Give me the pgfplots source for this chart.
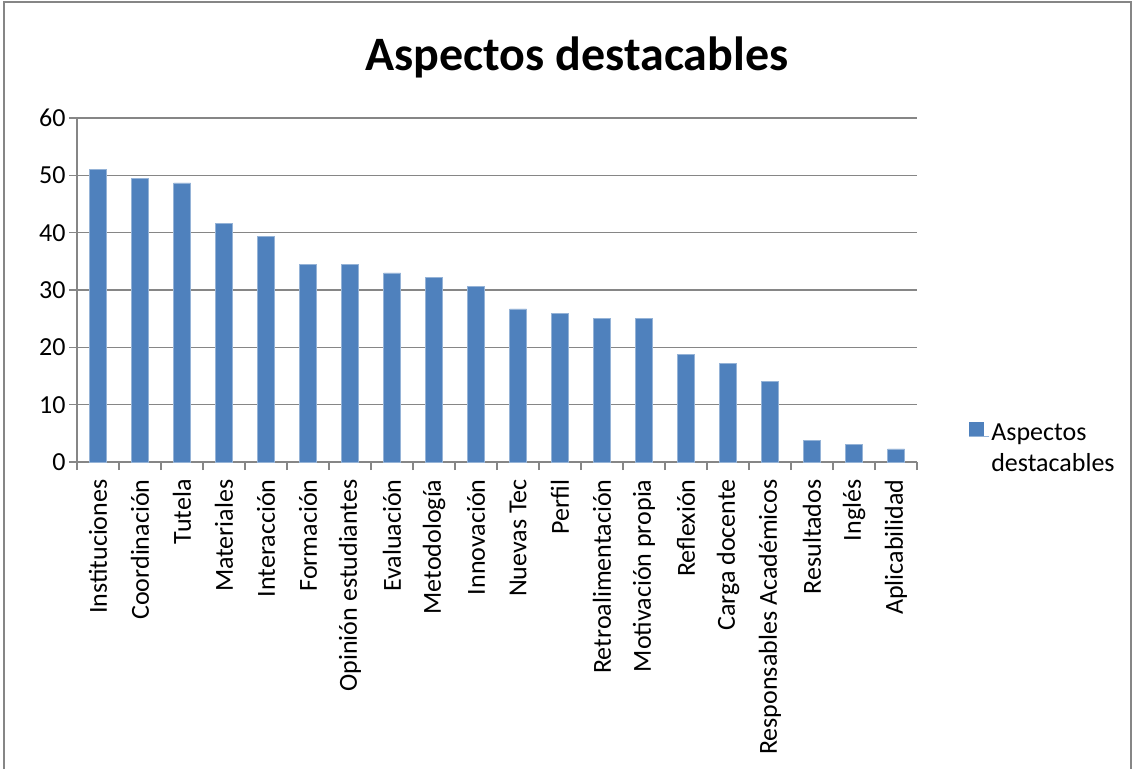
\documentclass[border=0pt]{standalone}
\usepackage{pgfplots}
\pgfplotsset{compat=1.18}
\usepackage{fontspec}
\setmainfont{Carlito}
\definecolor{barblue}{HTML}{4F81BD}
\definecolor{gridgray}{HTML}{868686}
\begin{document}
\begin{tikzpicture}[x=1pt,y=1pt]
\path[use as bounding box] (0pt,0pt) rectangle (1133pt,769pt);
\draw[gridgray,line width=1.2pt] (4pt,0pt) -- (4pt,767pt) -- (1131pt,767pt) -- (1131pt,0pt);
\node[font=\fontsize{48}{52}\selectfont\bfseries] at (577pt,712pt) {Aspectos destacables};
\begin{axis}[
  at={(77pt,307pt)}, anchor=south west,
  width=840pt, height=344pt, scale only axis,
  xmin=-0.5, xmax=19.5, ymin=0, ymax=60,
  ytick={0,10,...,60},
  xtick={-0.5,0.5,...,19.5},
  x tick label as interval,
  xticklabels={Instituciones,Coordinación,Tutela,Materiales,Interacción,Formación,Opinión estudiantes,Evaluación,Metodología,Innovación,Nuevas Tec,Perfil,Retroalimentación,Motivación propia,Reflexión,Carga docente,Responsables Académicos,Resultados,Inglés,Aplicabilidad},
  x tick label style={rotate=90, anchor=east, font=\fontsize{26}{30}\selectfont},
  xticklabel shift=6pt,
  y tick label style={font=\fontsize{26}{30}\selectfont},
  /pgf/number format/assume math mode=true,
  axis x line*=bottom, axis y line*=left,
  axis line style={gridgray, line width=1.2pt},
  ymajorgrids, grid style={gridgray, line width=1.2pt},
  major tick length=8pt, tick align=outside,
  tick style={gridgray, line width=1.2pt},
  legend style={draw=none, fill=none, at={(1.058,0.039)}, anchor=west, font=\fontsize{26}{31}\selectfont, cells={align=left}},
  legend image code/.code={\fill[barblue] (0pt,12pt) rectangle (14pt,26pt); \path (0pt,12pt) -- (20pt,12pt);},
]
\addplot[ybar, bar width=17pt, fill=barblue, draw=barblue!60!white] coordinates {
(0,51.1) (1,49.5) (2,48.7) (3,41.6) (4,39.3) (5,34.5) (6,34.5) (7,33.0) (8,32.2) (9,30.6)
(10,26.7) (11,25.9) (12,25.0) (13,25.0) (14,18.8) (15,17.2) (16,14.1) (17,3.8) (18,3.1) (19,2.3)
};
\addlegendentry{Aspectos\\destacables}
\end{axis}
\end{tikzpicture}
\end{document}
